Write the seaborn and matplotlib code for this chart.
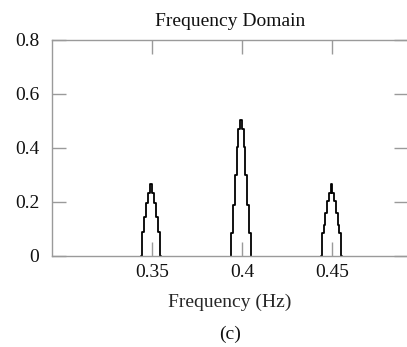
import matplotlib
matplotlib.use("Agg")
import matplotlib.pyplot as plt
import seaborn as sns
import pandas as pd

# Magnitude spectrum around the three spectral lines (bin centres in Hz)
freq_a = [0.3440, 0.3451, 0.3462, 0.3473, 0.3484, 0.3495, 0.3506, 0.3517, 0.3528, 0.3539, 0.3550]
mag_a = [0.0, 0.09, 0.145, 0.195, 0.235, 0.268, 0.235, 0.195, 0.145, 0.09, 0.0]

freq_b = [0.3936, 0.3946, 0.3956, 0.3965, 0.3975, 0.3984, 0.3994, 0.4004, 0.4013, 0.4023, 0.4032, 0.4042, 0.4052]
mag_b = [0.0, 0.085, 0.19, 0.30, 0.405, 0.47, 0.505, 0.47, 0.405, 0.30, 0.19, 0.085, 0.0]

freq_c = [0.4439, 0.4449, 0.4459, 0.4468, 0.4478, 0.4487, 0.4497, 0.4507, 0.4516, 0.4526, 0.4535, 0.4545, 0.4555]
mag_c = [0.0, 0.085, 0.116, 0.16, 0.204, 0.233, 0.267, 0.233, 0.204, 0.16, 0.116, 0.085, 0.0]

x_ticks = [0.35, 0.40, 0.45]
x_tick_labels = ["0.35", "0.4", "0.45"]
y_ticks = [0.0, 0.2, 0.4, 0.6, 0.8]
y_tick_labels = ["0", "0.2", "0.4", "0.6", "0.8"]

spectrum = pd.concat([
    pd.DataFrame({"freq": freq_a, "mag": mag_a, "peak": "a"}),
    pd.DataFrame({"freq": freq_b, "mag": mag_b, "peak": "b"}),
    pd.DataFrame({"freq": freq_c, "mag": mag_c, "peak": "c"}),
], ignore_index=True)

sns.set_theme(style="white")
plt.rcParams["font.family"] = ["Liberation Serif", "DejaVu Serif"]
plt.rcParams["text.color"] = "#111111"

fig = plt.figure(figsize=(4.07, 3.47), dpi=100)
ax = fig.add_axes([52 / 407, 1 - 256 / 347, 356 / 407, 216 / 347])

sns.lineplot(data=spectrum, x="freq", y="mag", units="peak", estimator=None,
             color="black", linewidth=1.3, drawstyle="steps-mid", ax=ax)

ax.set_xlim(0.2944, 0.4922)
ax.set_ylim(0, 0.8)

grey = "#9a9a9a"
for side, sp in ax.spines.items():
    sp.set_color(grey)
    sp.set_linewidth(1.0)
ax.spines["right"].set_visible(False)

ax.set_xticks(x_ticks)
ax.set_xticklabels(x_tick_labels)
ax.set_yticks(y_ticks)
ax.set_yticklabels(y_tick_labels)
ax.tick_params(axis="both", which="major", direction="in", length=10, width=1.0,
               color=grey, labelsize=14, labelcolor="#111111",
               top=True, right=True, bottom=True, left=True, pad=6)
ax.tick_params(axis="y", pad=9)

ax.set_title("Frequency Domain", fontsize=14, pad=10)
ax.set_xlabel("Frequency (Hz)", fontsize=14, labelpad=9)
ax.set_ylabel("")
fig.text(230 / 407, 1 - 334 / 347, "(c)", ha="center", va="center", fontsize=14)

fig.savefig("out.png", dpi=100)
